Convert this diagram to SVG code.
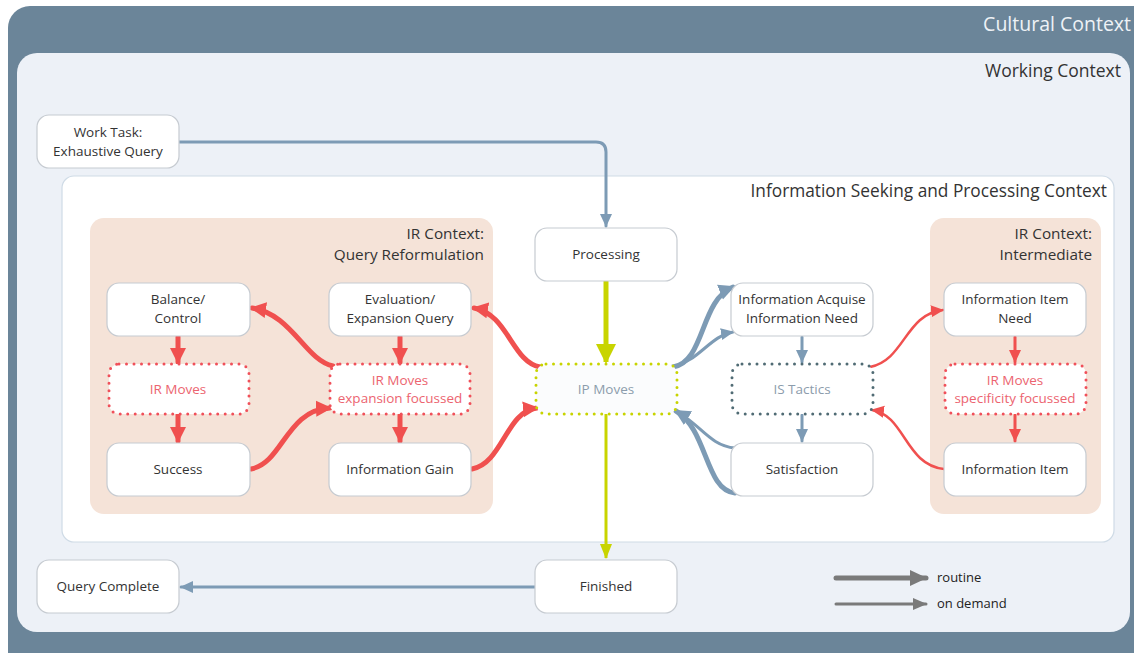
<svg xmlns="http://www.w3.org/2000/svg" width="1134" height="653" viewBox="0 0 1134 653">
<style>
text{font-family:"Open Sans","Noto Sans","DejaVu Sans",sans-serif;}
.n rect{fill:#ffffff;stroke:#c6cbd1;stroke-width:1.2;}
.n text{font-size:13.5px;fill:#333;text-anchor:middle;}
.dr rect{fill:#ffffff;stroke:#f0505a;stroke-width:3;stroke-dasharray:0 7.5;stroke-linecap:round;}
.dr text{font-size:13.5px;fill:#ec6470;text-anchor:middle;}
.dy rect{fill:#fbfcfd;stroke:#c8d400;stroke-width:3;stroke-dasharray:0 7.5;stroke-linecap:round;}
.dy text,.dt text{font-size:13.5px;fill:#8c9cac;text-anchor:middle;}
.dt rect{fill:#ffffff;stroke:#506b74;stroke-width:3;stroke-dasharray:0 7.5;stroke-linecap:round;}
.ctx{text-anchor:end;fill:#333;}
.red{fill:none;stroke:#f0504f;stroke-width:5;stroke-linecap:round;}
.redt{fill:none;stroke:#f0504f;stroke-width:2.5;stroke-linecap:round;}
.blue{fill:none;stroke:#7d9bb5;stroke-width:5;stroke-linecap:round;}
.bluet{fill:none;stroke:#7d9bb5;stroke-width:3;stroke-linecap:round;}
.yel{fill:none;stroke:#c8d400;stroke-width:5;}
.yelt{fill:none;stroke:#c8d400;stroke-width:3;}
</style>
<defs>
<marker id="mr" markerUnits="userSpaceOnUse" markerWidth="18" markerHeight="18" refX="14" refY="9" orient="auto"><path d="M0,1 L16,9 L0,17 Z" fill="#f0504f"/></marker>
<marker id="mrs" markerUnits="userSpaceOnUse" markerWidth="14" markerHeight="14" refX="12" refY="7" orient="auto"><path d="M0,1 L13,7 L0,13 Z" fill="#f0504f"/></marker>
<marker id="mb" markerUnits="userSpaceOnUse" markerWidth="18" markerHeight="18" refX="14" refY="9" orient="auto"><path d="M0,1 L16,9 L0,17 Z" fill="#7d9bb5"/></marker>
<marker id="mbs" markerUnits="userSpaceOnUse" markerWidth="14" markerHeight="14" refX="12" refY="7" orient="auto"><path d="M0,1 L13,7 L0,13 Z" fill="#7d9bb5"/></marker>
<marker id="my" markerUnits="userSpaceOnUse" markerWidth="22" markerHeight="22" refX="18" refY="11" orient="auto"><path d="M0,1 L20,11 L0,21 Z" fill="#c8d400"/></marker>
<marker id="mys" markerUnits="userSpaceOnUse" markerWidth="16" markerHeight="16" refX="14" refY="8" orient="auto"><path d="M0,2 L15,8 L0,14 Z" fill="#c8d400"/></marker>
<marker id="mg" markerUnits="userSpaceOnUse" markerWidth="18" markerHeight="18" refX="16" refY="9" orient="auto"><path d="M0,1 L17,9 L0,17 Z" fill="#7a7a7a"/></marker>
<marker id="mgs" markerUnits="userSpaceOnUse" markerWidth="14" markerHeight="14" refX="13" refY="7" orient="auto"><path d="M0,1 L14,7 L0,13 Z" fill="#7a7a7a"/></marker>
</defs>

<!-- contexts -->
<g id="cultural-context">
<rect x="8" y="6" width="1150" height="670" rx="22" fill="#6b8599"/>
<text x="1131" y="31" class="ctx" style="fill:#eef2f6;font-size:19.5px">Cultural Context</text>
</g>
<g id="working-context">
<rect x="17" y="53" width="1113" height="579" rx="20" fill="#edf1f7"/>
<text x="1121" y="77" class="ctx" style="font-size:17.5px">Working Context</text>
</g>
<g id="isp-context">
<rect x="62" y="176" width="1052" height="366" rx="12" fill="#ffffff" stroke="#cfdbe6" stroke-width="1.2"/>
<text x="1107" y="197" class="ctx" style="font-size:17.3px">Information Seeking and Processing Context</text>
</g>
<g id="ir-context-qr">
<rect x="90" y="218" width="403" height="296" rx="14" fill="#f5e3d8"/>
<text x="484" y="239" class="ctx" style="font-size:15.3px">IR Context:</text>
<text x="484" y="260" class="ctx" style="font-size:15.3px">Query Reformulation</text>
</g>
<g id="ir-context-int">
<rect x="930" y="218" width="171" height="296" rx="14" fill="#f5e3d8"/>
<text x="1092" y="239" class="ctx" style="font-size:15.3px">IR Context:</text>
<text x="1092" y="260" class="ctx" style="font-size:15.3px">Intermediate</text>
</g>

<!-- connectors -->
<g id="connectors">
<path class="bluet" d="M179,142 H596 Q606,142 606,152 V226" marker-end="url(#mbs)"/>
<path class="yel" d="M606,281 V362" marker-end="url(#my)"/>
<path class="yelt" d="M606,414 V558" marker-end="url(#mys)"/>
<path class="bluet" d="M535,587 H181" marker-end="url(#mbs)"/>

<path class="red" d="M178,337 V362" marker-end="url(#mr)"/>
<path class="red" d="M178,415 V441" marker-end="url(#mr)"/>
<path class="red" d="M400,337 V362" marker-end="url(#mr)"/>
<path class="red" d="M400,415 V441" marker-end="url(#mr)"/>

<path class="red" d="M333,366 C305,360 292,314 252,308" marker-end="url(#mr)"/>
<path class="red" d="M251,469 C283,463 286,410 330,408" marker-end="url(#mr)"/>
<path class="red" d="M472,469 C503,463 506,411 537,408" marker-end="url(#mr)"/>
<path class="red" d="M540,367 C512,362 508,314 474,308" marker-end="url(#mr)"/>

<path class="blue" d="M673,367 C705,362 700,300 733,287" marker-end="url(#mb)"/>
<path class="bluet" d="M673,367 C700,360 710,336 733,332" marker-end="url(#mbs)"/>
<path class="bluet" d="M735,448 C710,446 700,424 676,411" marker-end="url(#mbs)"/>
<path class="blue" d="M735,493 C705,490 708,430 676,411" marker-end="url(#mb)"/>

<path class="bluet" d="M802,337 V362" marker-end="url(#mbs)"/>
<path class="bluet" d="M802,415 V441" marker-end="url(#mbs)"/>

<path class="redt" d="M870,367 C905,360 905,314 943,310" marker-end="url(#mrs)"/>
<path class="redt" d="M944,469 C905,465 905,415 872,410" marker-end="url(#mrs)"/>
<path class="redt" d="M1015,337 V362" marker-end="url(#mrs)" style="stroke-width:3"/>
<path class="redt" d="M1015,415 V441" marker-end="url(#mrs)" style="stroke-width:3"/>
</g>

<!-- nodes -->
<g id="work-task" class="n"><rect x="37" y="115" width="142" height="53" rx="12"/><text x="108" y="137">Work Task:</text><text x="108" y="156">Exhaustive Query</text></g>
<g id="processing" class="n"><rect x="535" y="228" width="142" height="53" rx="12"/><text x="606" y="259">Processing</text></g>
<g id="balance-control" class="n"><rect x="107" y="283" width="143" height="53" rx="12"/><text x="178" y="304">Balance/</text><text x="178" y="323">Control</text></g>
<g id="evaluation" class="n"><rect x="329" y="283" width="142" height="53" rx="12"/><text x="400" y="304">Evaluation/</text><text x="400" y="323">Expansion Query</text></g>
<g id="ir-moves" class="dr"><rect x="109" y="364" width="140" height="50" rx="10"/><text x="178" y="394">IR Moves</text></g>
<g id="ir-moves-expansion" class="dr"><rect x="330" y="364" width="140" height="50" rx="10"/><text x="400" y="385">IR Moves</text><text x="400" y="403">expansion focussed</text></g>
<g id="success" class="n"><rect x="107" y="443" width="143" height="53" rx="12"/><text x="178" y="474">Success</text></g>
<g id="information-gain" class="n"><rect x="329" y="443" width="142" height="53" rx="12"/><text x="400" y="474">Information Gain</text></g>
<g id="ip-moves" class="dy"><rect x="536" y="364" width="141" height="50" rx="10"/><text x="606" y="394">IP Moves</text></g>
<g id="information-acquise" class="n"><rect x="731" y="283" width="142" height="53" rx="12"/><text x="802" y="304">Information Acquise</text><text x="802" y="323">Information Need</text></g>
<g id="is-tactics" class="dt"><rect x="732" y="364" width="141" height="50" rx="10"/><text x="802" y="394">IS Tactics</text></g>
<g id="satisfaction" class="n"><rect x="731" y="443" width="142" height="53" rx="12"/><text x="802" y="474">Satisfaction</text></g>
<g id="information-item-need" class="n"><rect x="944" y="283" width="142" height="53" rx="12"/><text x="1015" y="304">Information Item</text><text x="1015" y="323">Need</text></g>
<g id="ir-moves-specificity" class="dr"><rect x="945" y="364" width="141" height="50" rx="10"/><text x="1015" y="385">IR Moves</text><text x="1015" y="403">specificity focussed</text></g>
<g id="information-item" class="n"><rect x="944" y="443" width="142" height="53" rx="12"/><text x="1015" y="474">Information Item</text></g>
<g id="query-complete" class="n"><rect x="37" y="560" width="142" height="53" rx="12"/><text x="108" y="591">Query Complete</text></g>
<g id="finished" class="n"><rect x="535" y="560" width="142" height="53" rx="12"/><text x="606" y="591">Finished</text></g>

<!-- legend -->
<g id="legend">
<path d="M836,578 H926" stroke="#7a7a7a" stroke-width="5" stroke-linecap="round" fill="none" marker-end="url(#mg)"/>
<path d="M836,604 H926" stroke="#7a7a7a" stroke-width="3" stroke-linecap="round" fill="none" marker-end="url(#mgs)"/>
<text x="937" y="582" style="font-size:13px;fill:#222">routine</text>
<text x="937" y="608" style="font-size:13px;fill:#222">on demand</text>
</g>
</svg>
